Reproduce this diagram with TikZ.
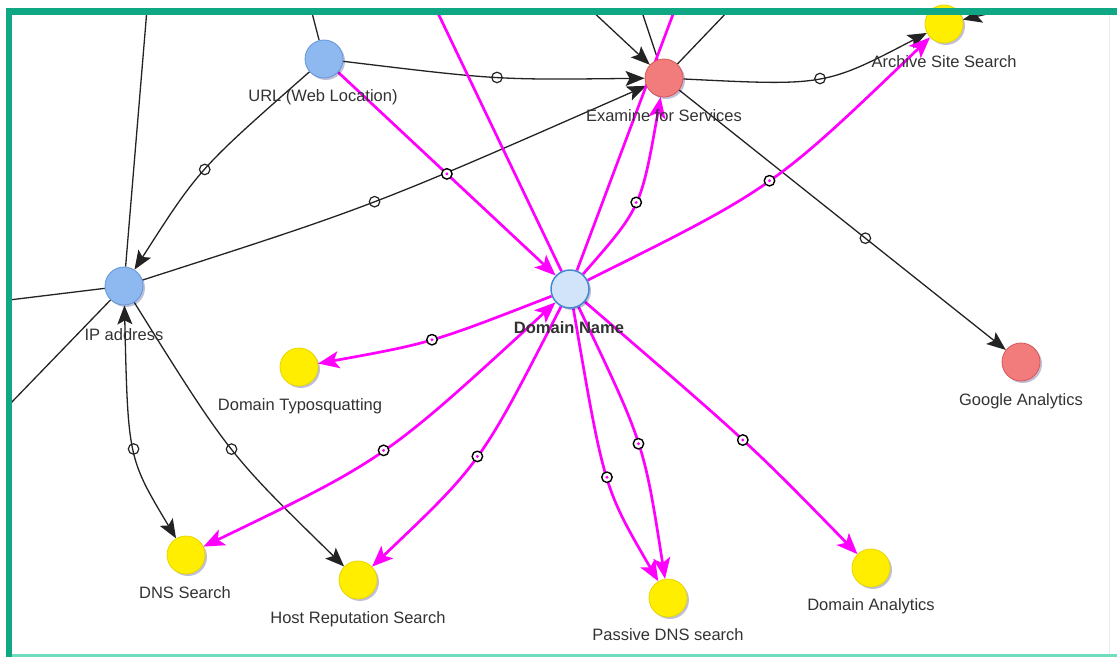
\documentclass[tikz,border=0pt]{standalone}
\usepackage{fontspec}
\setmainfont{Liberation Sans}
\usetikzlibrary{arrows.meta,shadows}
\definecolor{frameT}{RGB}{16,168,132}
\definecolor{frameL}{RGB}{110,222,190}
\definecolor{blueF}{RGB}{141,184,240}
\definecolor{blueD}{RGB}{100,150,215}
\definecolor{domF}{RGB}{210,228,250}
\definecolor{domD}{RGB}{70,136,208}
\definecolor{redF}{RGB}{242,124,124}
\definecolor{redD}{RGB}{214,88,88}
\definecolor{yelF}{RGB}{255,238,0}
\definecolor{yelD}{RGB}{232,214,0}
\definecolor{magC}{RGB}{255,0,255}
\definecolor{lineK}{RGB}{35,35,35}
\definecolor{textC}{RGB}{50,50,50}
\pgfdeclarelayer{bg}
\pgfdeclarelayer{fg}
\pgfsetlayers{bg,main,fg}
\tikzset{
  vtx/.style={circle, minimum size=38pt, inner sep=0pt, line width=0.8pt,
    drop shadow={opacity=0.25, shadow xshift=2pt, shadow yshift=-2pt, fill=black!60!blue}},
  blueV/.style={vtx, fill=blueF, draw=blueD},
  domV/.style={vtx, fill=domF, draw=domD, line width=1.5pt},
  redV/.style={vtx, fill=redF, draw=redD},
  yelV/.style={vtx, fill=yelF, draw=yelD},
  lbl/.style={anchor=base, inner sep=0pt, text=textC, font=\fontsize{16.5}{18}\selectfont},
  blk/.style={draw=lineK, line width=1.3pt},
  mag/.style={draw=magC, line width=2.7pt, line join=round},
  barr/.style={-{Stealth[length=19pt,width=15pt,inset=4pt]}},
  barrboth/.style={{Stealth[length=19pt,width=15pt,inset=4pt]}-{Stealth[length=19pt,width=15pt,inset=4pt]}},
  marr/.style={-{Stealth[length=21pt,width=17pt,inset=5pt]}},
  marrboth/.style={{Stealth[length=21pt,width=17pt,inset=5pt]}-{Stealth[length=21pt,width=17pt,inset=5pt]}},
  mkB/.style={circle, draw=lineK, line width=1.2pt, minimum size=10.5pt, inner sep=0pt},
  mkM/.style={circle, draw=black, fill=white, line width=1.4pt, minimum size=10.5pt, inner sep=0pt,
    path picture={\fill[magC] (path picture bounding box.center) circle (1.6pt);}},
}
\begin{document}
\begin{tikzpicture}[x=1pt,y=-1pt]
\useasboundingbox (0,0) rectangle (1117,657);

% vertices
\node[blueV] (url) at (324,59) {};
\node[blueV] (ip) at (124,286) {};
\node[domV] (dom) at (570,289) {};
\node[redV] (exam) at (664,78) {};
\node[redV] (goog) at (1021,362) {};
\node[yelV] (arch) at (944,24) {};
\node[yelV] (typo) at (299,367) {};
\node[yelV] (dns) at (186,555) {};
\node[yelV] (host) at (358,580) {};
\node[yelV] (pdns) at (668,598) {};
\node[yelV] (dana) at (871,568) {};

% labels
\node[lbl] (urlL) at (323,101) {URL (Web Location)};
\node[lbl] (examL) at (664,121) {Examine for Services};
\node[lbl] (archL) at (944,67) {Archive Site Search};
\node[lbl] (ipL) at (124,340) {IP address};
\node[lbl, font=\fontsize{16.5}{18}\selectfont\bfseries] (domL) at (569,333) {Domain Name};
\node[lbl] (typoL) at (300,410) {Domain Typosquatting};
\node[lbl] (googL) at (1021,405) {Google Analytics};
\node[lbl] (dnsL) at (185,598) {DNS Search};
\node[lbl] (hostL) at (358,623) {Host Reputation Search};
\node[lbl] (pdnsL) at (668,640) {Passive DNS search};
\node[lbl] (danaL) at (871,610) {Domain Analytics};

% free ends at the frame
\coordinate (tA) at (436,9);
\coordinate (tB) at (147,9);
\coordinate (tC) at (9,300);
\coordinate (tD) at (9,405);
\coordinate (tE) at (311,9);
\coordinate (tF) at (590,9);
\coordinate (tG) at (641,9);
\coordinate (tH) at (730,9);
\coordinate (tI) at (1000,11);
\coordinate (tJ) at (675,9);

\begin{pgfonlayer}{bg}
% black connectors
\draw[blk] (tB) -- (ip);
\draw[blk] (tC) -- (ip);
\draw[blk] (tD) -- (ip);
\draw[blk] (tE) -- (url);
\draw[blk,barr] (tF) -- (exam);
\draw[blk] (tG) -- (exam);
\draw[blk] (tH) -- (exam);
\draw[blk,barr] (tI) -- (arch);
\draw[blk,barr] (url) .. controls (498,80) .. (exam) node[mkB,pos=0.5] (m1) {};
\draw[blk,barr] (url) .. controls (199,169) .. (ip) node[mkB,pos=0.5] (m2) {};
\draw[blk,barr] (ip) .. controls (373,206) .. (exam) node[mkB,pos=0.49] (m3) {};
\draw[blk,barr] (exam) .. controls (825,86) .. (arch) node[mkB,pos=0.5] (m4) {};
\draw[blk,barr] (exam) -- (goog) node[mkB,pos=0.57] (m5) {};
\draw[blk,barrboth] (ip) .. controls (128,458) .. (dns) node[mkB,pos=0.5] (m6) {};
\draw[blk,barr] (ip) .. controls (229,454) .. (host) node[mkB,pos=0.5] (m7) {};
% magenta connectors
\draw[mag] (tA) -- (dom);
\draw[mag] (dom) -- (tJ);
\draw[mag,marr] (url) -- (dom) node[mkM,pos=0.5] (m8) {};
\draw[mag,marr] (dom) .. controls (641,208) .. (exam) node[mkM,pos=0.5] (m9) {};
\draw[mag,marr] (dom) .. controls (773,188) .. (arch) node[mkM,pos=0.5] (m10) {};
\draw[mag,marr] (dom) .. controls (431,343) .. (typo) node[mkM,pos=0.5] (m11) {};
\draw[mag,marrboth] (dom) .. controls (385,459) .. (dns) node[mkM,pos=0.5] (m12) {};
\draw[mag,marr] (dom) .. controls (481,463) .. (host) node[mkM,pos=0.5] (m13) {};
\draw[mag,marr] (dom) .. controls (604,488) .. (pdns) node[mkM,pos=0.5] (m14) {};
\draw[mag,marr] (dom) .. controls (644,444) .. (pdns) node[mkM,pos=0.5] (m15) {};
\draw[mag,marr] (dom) .. controls (750,444) .. (dana) node[mkM,pos=0.5] (m16) {};
\end{pgfonlayer}

\begin{pgfonlayer}{fg}
\fill[frameT] (6,8) rectangle (1117,15);
\fill[frameT] (6,8) rectangle (12,657);
\fill[frameL] (12,654) rectangle (1117,657);
\draw[black!8, line width=1pt] (1109,15) -- (1109,654);
\end{pgfonlayer}
\end{tikzpicture}
\end{document}
